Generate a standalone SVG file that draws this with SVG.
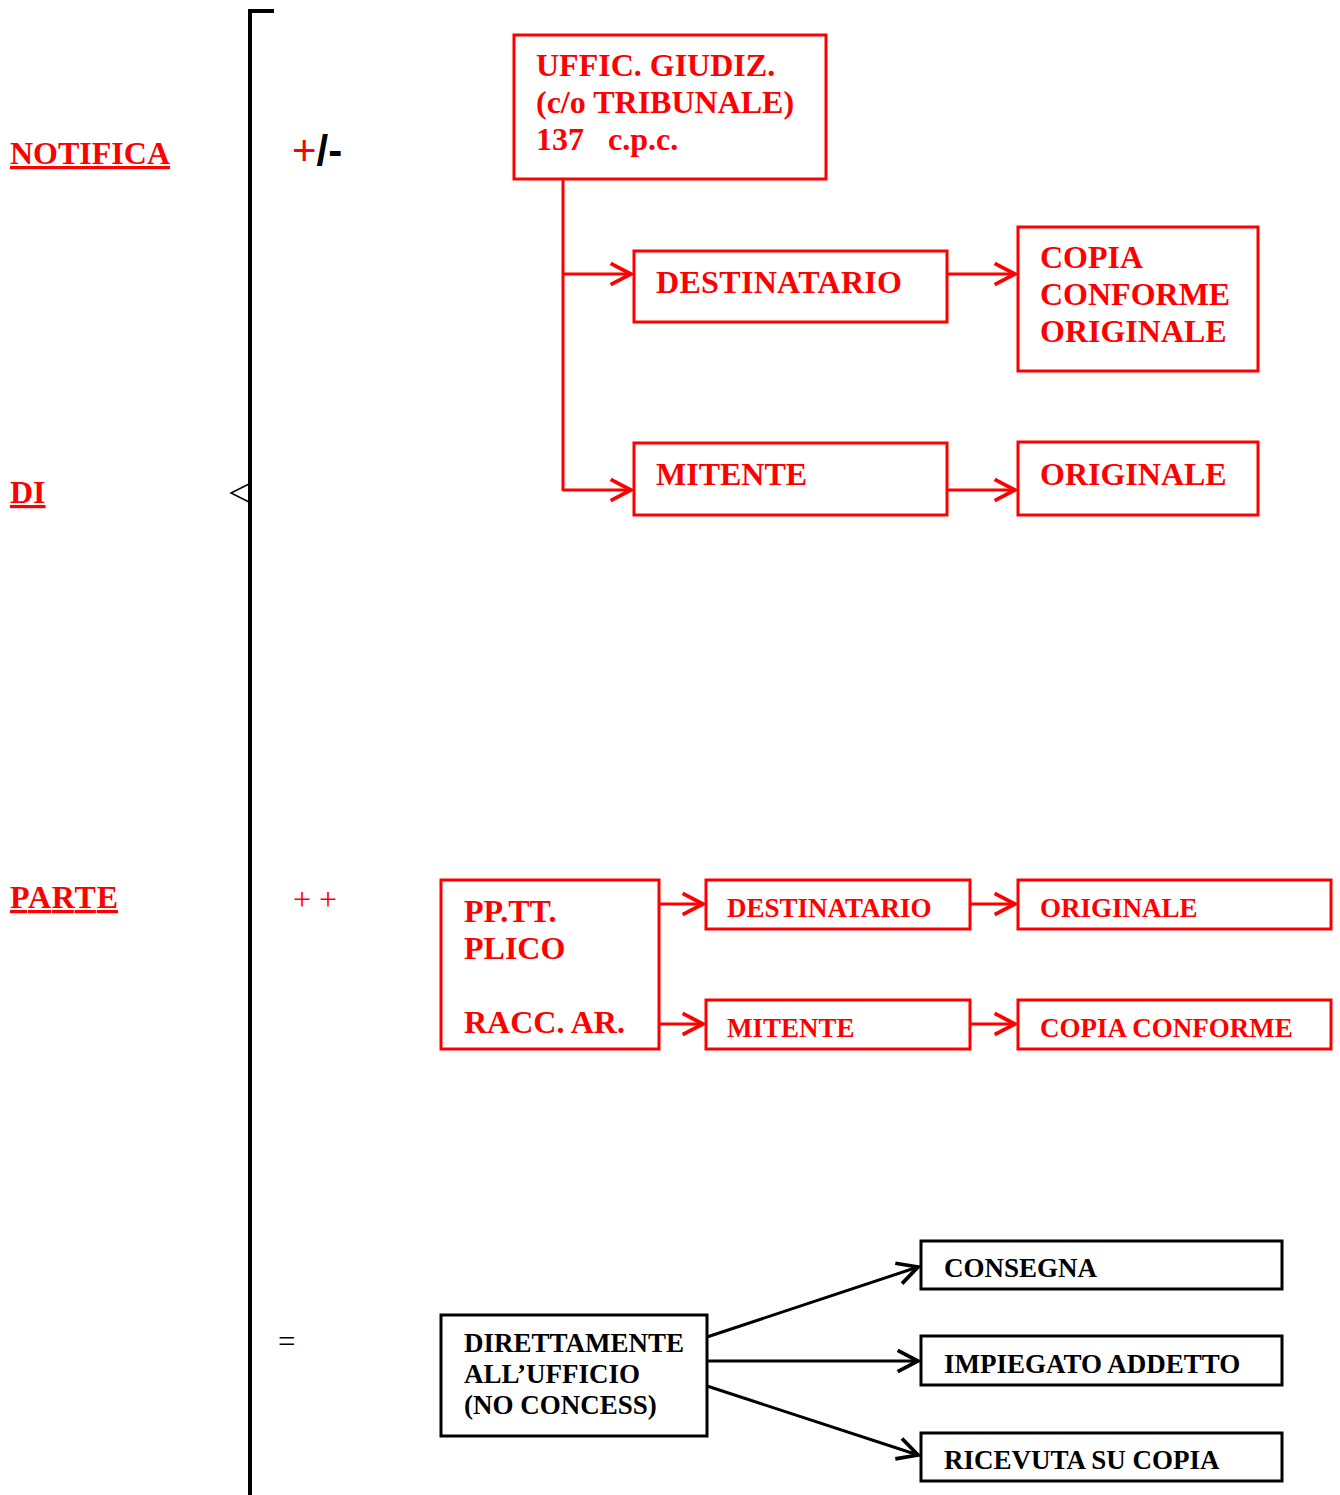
<svg xmlns="http://www.w3.org/2000/svg" width="1340" height="1495" viewBox="0 0 1340 1495">
  <style>
    .red { fill: #ff0000; }
    .blk { fill: #000000; }
    .t { font-family: "Liberation Serif", "Times New Roman", serif; font-weight: bold; }
    .big { font-size: 32px; }
    .mid { font-size: 27px; }
    .sm { font-size: 27px; }
    .boxr { fill: #ffffff; stroke: #ff0000; stroke-width: 3; }
    .boxk { fill: #ffffff; stroke: #000000; stroke-width: 3; }
    .lr { fill: none; stroke: #ff0000; stroke-width: 3; }
    .lk { fill: none; stroke: #000000; stroke-width: 3; }
    .u { text-decoration: underline; }
  </style>
  <defs>
    <marker id="chevR" markerUnits="userSpaceOnUse" markerWidth="30" markerHeight="30" viewBox="-24 -14 28 28" refX="0" refY="0" orient="auto">
      <path d="M-19,-10 L0,0 L-19,10" fill="none" stroke="#ff0000" stroke-width="3.5"/>
    </marker>
    <marker id="chevK" markerUnits="userSpaceOnUse" markerWidth="30" markerHeight="30" viewBox="-24 -14 28 28" refX="0" refY="0" orient="auto">
      <path d="M-19,-10 L0,0 L-19,10" fill="none" stroke="#000000" stroke-width="3.5"/>
    </marker>
  </defs>
  <rect width="1340" height="1495" fill="#ffffff"/>

  <!-- left side labels -->
  <g id="labels">
    <text class="t big red u" x="10" y="164">NOTIFICA</text>
    <text class="t big red u" x="10" y="503">DI</text>
    <text class="t big red u" x="10" y="908" textLength="108">PARTE</text>
  </g>

  <!-- large brace -->
  <g id="brace">
    <path d="M250,1495 L250,11 L274,11" fill="none" stroke="#000000" stroke-width="4"/>
    <path d="M249,484 L231,493 L249,502" fill="none" stroke="#000000" stroke-width="1.5"/>
  </g>

  <!-- branch signs -->
  <g id="signs">
    <text x="292" y="165" font-family="Liberation Sans, Arial, sans-serif" font-size="42"><tspan class="red">+</tspan><tspan class="blk" font-weight="bold">/-</tspan></text>
    <text class="red" x="293" y="910" font-family="Liberation Serif, serif" font-size="32">+ +</text>
    <text class="blk" x="278" y="1352" font-family="Liberation Serif, serif" font-size="31">=</text>
  </g>

  <!-- connectors -->
  <g id="connectors">
    <path class="lr" d="M563,179 L563,491"/>
    <path class="lr" d="M563,274 L631,274" marker-end="url(#chevR)"/>
    <path class="lr" d="M563,490 L631,490" marker-end="url(#chevR)"/>
    <path class="lr" d="M947,274 L1015,274" marker-end="url(#chevR)"/>
    <path class="lr" d="M947,490 L1015,490" marker-end="url(#chevR)"/>
    <path class="lr" d="M659,904 L703,904" marker-end="url(#chevR)"/>
    <path class="lr" d="M659,1024 L703,1024" marker-end="url(#chevR)"/>
    <path class="lr" d="M970,904 L1015,904" marker-end="url(#chevR)"/>
    <path class="lr" d="M970,1024 L1015,1024" marker-end="url(#chevR)"/>
    <path class="lk" d="M707,1337 L918,1267" marker-end="url(#chevK)"/>
    <path class="lk" d="M707,1361 L918,1361" marker-end="url(#chevK)"/>
    <path class="lk" d="M707,1386 L918,1455" marker-end="url(#chevK)"/>
  </g>

  <!-- bailiff route -->
  <g id="ufficiale">
    <rect class="boxr" x="514" y="35" width="312" height="144"/>
    <text class="t big red" x="536" y="76">UFFIC. GIUDIZ.</text>
    <text class="t big red" x="536" y="113">(c/o TRIBUNALE)</text>
    <text class="t big red" x="536" y="150" xml:space="preserve">137   c.p.c.</text>
  </g>
  <g id="destinatario1">
    <rect class="boxr" x="634" y="251" width="313" height="71"/>
    <text class="t big red" x="656" y="293" textLength="246">DESTINATARIO</text>
  </g>
  <g id="mitente1">
    <rect class="boxr" x="634" y="443" width="313" height="72"/>
    <text class="t big red" x="656" y="485">MITENTE</text>
  </g>
  <g id="copia1">
    <rect class="boxr" x="1018" y="227" width="240" height="144"/>
    <text class="t big red" x="1040" y="268">COPIA</text>
    <text class="t big red" x="1040" y="305">CONFORME</text>
    <text class="t big red" x="1040" y="342">ORIGINALE</text>
  </g>
  <g id="originale1">
    <rect class="boxr" x="1018" y="442" width="240" height="73"/>
    <text class="t big red" x="1040" y="485">ORIGINALE</text>
  </g>

  <!-- postal route -->
  <g id="pptt">
    <rect class="boxr" x="441" y="880" width="218" height="169"/>
    <text class="t big red" x="464" y="922">PP.TT.</text>
    <text class="t big red" x="464" y="959">PLICO</text>
    <text class="t big red" x="464" y="1033">RACC. AR.</text>
  </g>
  <g id="destinatario2">
    <rect class="boxr" x="706" y="880" width="264" height="49"/>
    <text class="t mid red" x="727" y="917">DESTINATARIO</text>
  </g>
  <g id="mitente2">
    <rect class="boxr" x="706" y="1000" width="264" height="49"/>
    <text class="t mid red" x="727" y="1037">MITENTE</text>
  </g>
  <g id="originale2">
    <rect class="boxr" x="1018" y="880" width="313" height="49"/>
    <text class="t mid red" x="1040" y="917">ORIGINALE</text>
  </g>
  <g id="copia2">
    <rect class="boxr" x="1018" y="1000" width="313" height="49"/>
    <text class="t mid red" x="1040" y="1037">COPIA CONFORME</text>
  </g>

  <!-- direct delivery -->
  <g id="diretto">
    <rect class="boxk" x="441" y="1315" width="266" height="121"/>
    <text class="t sm blk" x="464" y="1352">DIRETTAMENTE</text>
    <text class="t sm blk" x="464" y="1383">ALL’UFFICIO</text>
    <text class="t sm blk" x="464" y="1414">(NO CONCESS)</text>
  </g>
  <g id="consegna">
    <rect class="boxk" x="921" y="1241" width="361" height="48"/>
    <text class="t sm blk" x="944" y="1277">CONSEGNA</text>
  </g>
  <g id="impiegato">
    <rect class="boxk" x="921" y="1336" width="361" height="49"/>
    <text class="t sm blk" x="944" y="1373">IMPIEGATO ADDETTO</text>
  </g>
  <g id="ricevuta">
    <rect class="boxk" x="921" y="1433" width="361" height="48"/>
    <text class="t sm blk" x="944" y="1469">RICEVUTA SU COPIA</text>
  </g>
</svg>
